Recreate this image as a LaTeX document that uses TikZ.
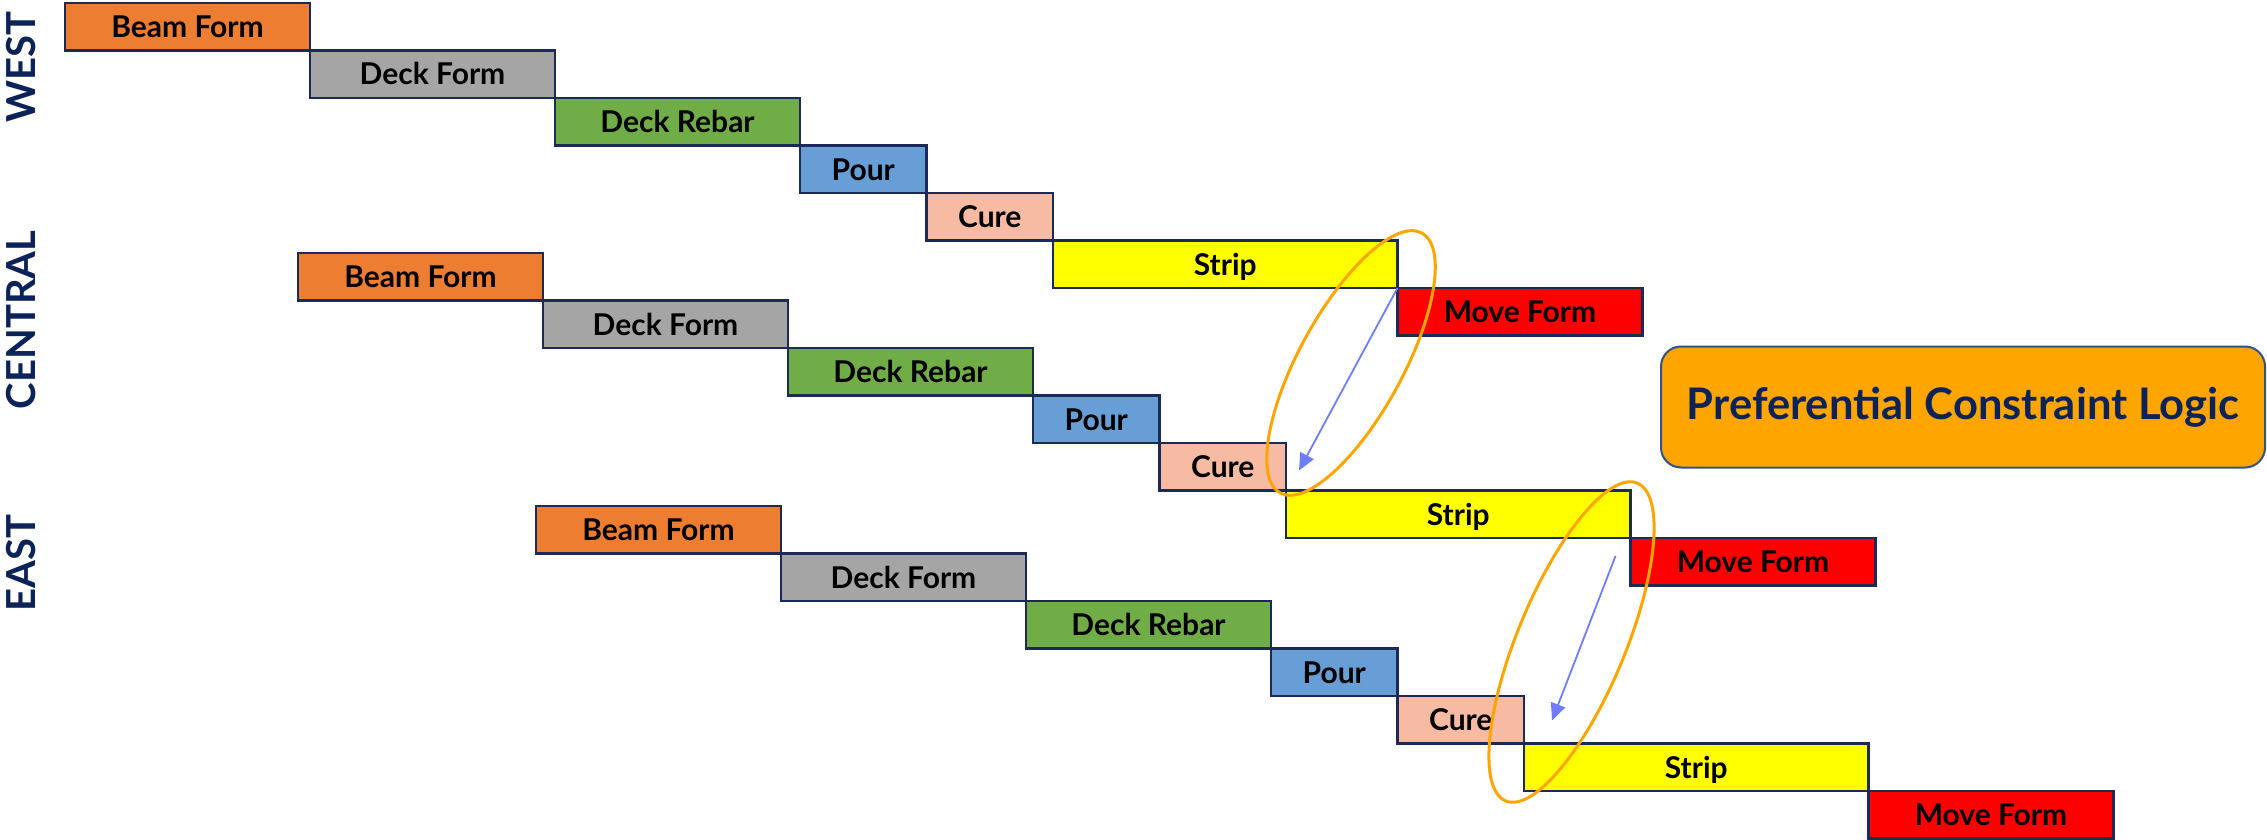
\documentclass[tikz,border=0pt]{standalone}
\usepackage{fontspec}
\setmainfont{Lato}
\usetikzlibrary{calc,arrows.meta}

\definecolor{boxline}{RGB}{28,42,88}
\definecolor{navy}{RGB}{12,35,90}
\definecolor{beamc}{RGB}{237,125,49}
\definecolor{deckc}{RGB}{165,165,165}
\definecolor{rebarc}{RGB}{112,173,71}
\definecolor{pourc}{RGB}{104,158,214}
\definecolor{curec}{RGB}{246,187,162}
\definecolor{stripc}{RGB}{255,255,0}
\definecolor{movec}{RGB}{255,0,0}
\definecolor{ringc}{RGB}{255,165,0}
\definecolor{titlefill}{RGB}{255,165,0}
\definecolor{titleline}{RGB}{47,82,143}
\definecolor{linkc}{RGB}{110,125,255}

\begin{document}
\begin{tikzpicture}[x=1pt,y=1pt,
  task/.style={draw=boxline, line width=2.7pt, outer sep=0pt, inner sep=0pt,
    minimum height=47.5pt, text height=21.5pt, text depth=0pt,
    font=\fontsize{30}{30}\selectfont\bfseries, text=black, anchor=north west},
  longtask/.style={task, minimum width=245pt},
  shorttask/.style={task, minimum width=126.5pt},
  striptask/.style={task, minimum width=344.5pt},
  lane/.style={rotate=90, text=navy, font=\fontsize{40}{40}\selectfont\bfseries},
  ring/.style={draw=ringc, line width=3pt},
  link/.style={draw=linkc, line width=1.8pt, -{Triangle[length=17pt,width=15pt]}},
  banner/.style={draw=titleline, line width=2pt, fill=titlefill, rounded corners=20pt,
    minimum width=604pt, minimum height=121pt, text=navy,
    font=\fontsize{43.5}{43.5}\selectfont\bfseries}
]
\useasboundingbox (0,0) rectangle (2267,-840);

% lane labels
\node[lane] (lwest) at (21,-67) {WEST};
\node[lane] (lcentral) at (21,-320) {CENTRAL};
\node[lane] (least) at (21,-563) {EAST};

% a staircase of tasks for each lane
\foreach \p/\x/\y in {w/65/3, c/298/253, e/536/506} {
  \node[longtask, fill=beamc] (\p Beam) at (\x,-\y) {Beam Form};
  \node[longtask, fill=deckc] (\p Deck) at (\p Beam.south east) {Deck Form};
  \node[longtask, fill=rebarc] (\p Rebar) at (\p Deck.south east) {Deck Rebar};
  \node[shorttask, fill=pourc] (\p Pour) at (\p Rebar.south east) {Pour};
  \node[shorttask, fill=curec] (\p Cure) at (\p Pour.south east) {Cure};
  \node[striptask, fill=stripc] (\p Strip) at (\p Cure.south east) {Strip};
  \node[longtask, fill=movec] (\p Move) at (\p Strip.south east) {Move Form};
}

% title
\node[banner] (title) at (1963,-407) {Preferential Constraint Logic};

% highlighted hand-overs
\draw[ring] (1351,-363) ellipse [x radius=148, y radius=52, rotate=61.4];
\draw[ring] (1571.5,-642) ellipse [x radius=172, y radius=54, rotate=67.5];

\draw[link] (wStrip.south east) -- ($(cCure.south east)+(13,20)$);
\draw[link] ($(cStrip.south east)+(-15,-18)$) -- ($(eCure.south east)+(28,23)$);
\end{tikzpicture}
\end{document}
